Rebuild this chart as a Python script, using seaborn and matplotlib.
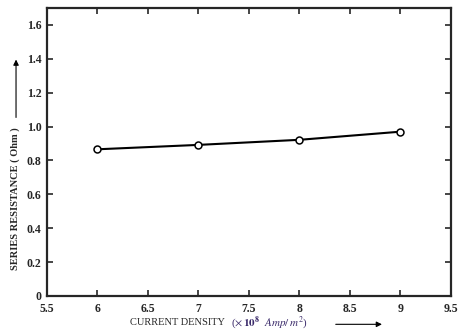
import matplotlib
matplotlib.use("Agg")
import matplotlib.pyplot as plt
import seaborn as sns
import pandas as pd

# data
current_density = [6, 7, 8, 9]
series_resistance = [0.866, 0.892, 0.922, 0.970]
x_ticks = [5.5, 6, 6.5, 7, 7.5, 8, 8.5, 9, 9.5]
x_tick_labels = ["5.5", "6", "6.5", "7", "7.5", "8", "8.5", "9", "9.5"]
y_ticks = [0, 0.2, 0.4, 0.6, 0.8, 1.0, 1.2, 1.4, 1.6]
y_tick_labels = ["0", "0.2", "0.4", "0.6", "0.8", "1.0", "1.2", "1.4", "1.6"]

sns.set_style("ticks")
plt.rcParams['font.family'] = ['Liberation Serif', 'DejaVu Serif']
plt.rcParams['mathtext.fontset'] = 'stix'

df = pd.DataFrame({"cd": current_density, "rs": series_resistance})

fig = plt.figure(figsize=(4.58, 3.34), dpi=100)
ax = fig.add_axes([0.1026, 0.1138, 0.8821, 0.8622])

sns.lineplot(data=df, x="cd", y="rs", ax=ax, color="black", linewidth=1.5,
             marker="o", markersize=5, markerfacecolor="white",
             markeredgecolor="black", markeredgewidth=1.1)

ax.set_xlim(5.5, 9.5)
ax.set_ylim(0, 1.7)
ax.set_xticks(x_ticks)
ax.set_xticklabels(x_tick_labels, fontsize=8.5, fontweight="bold")
ax.set_yticks(y_ticks)
ax.set_yticklabels(y_tick_labels, fontsize=8.5, fontweight="bold")
ax.tick_params(direction="in", length=4, width=1.2, top=True, right=True, pad=4)
ax.tick_params(axis="x", pad=5)
for s in ax.spines.values():
    s.set_linewidth(1.6)
    s.set_visible(True)
ax.set_xlabel("")
ax.set_ylabel("")

# y axis label with arrow above it
fig.text(0.033, 0.404, "SERIES RESISTANCE ( Ohm )", rotation=90, ha="center",
         va="center", fontsize=7.5, fontweight="bold")
fig.add_artist(matplotlib.patches.FancyArrowPatch(
    (0.035, 0.64), (0.035, 0.83), transform=fig.transFigure,
    arrowstyle="-|>", mutation_scale=8, color="black", linewidth=0.8))

# x axis label with arrow
fig.text(0.284, 0.033, "CURRENT DENSITY", ha="left", va="center",
         fontsize=7.5)
fig.text(0.505, 0.033, r"($\times\,\mathbf{10^8}$  $Amp/\,m^2$)", ha="left",
         va="center", fontsize=8, color="#3a2a6a")
fig.add_artist(matplotlib.patches.FancyArrowPatch(
    (0.727, 0.029), (0.84, 0.029), transform=fig.transFigure,
    arrowstyle="-|>", mutation_scale=8, color="black", linewidth=0.8))

fig.savefig("out.png", dpi=100)
